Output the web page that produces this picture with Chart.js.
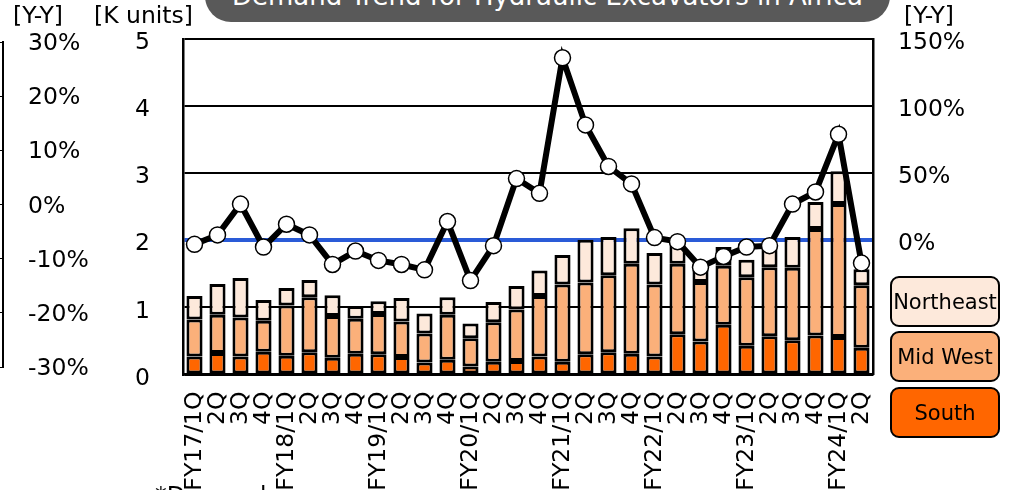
<!DOCTYPE html>
<html>
<head>
<meta charset="utf-8">
<script src="https://cdn.jsdelivr.net/npm/chart.js@4.4.1/dist/chart.umd.min.js"></script>
<style>
  body { margin: 0; width: 1017px; height: 490px; overflow: hidden; background: #fff; position: relative; font-family: "DejaVu Sans", Verdana, sans-serif; color: #000; }
  canvas { position: absolute; top: 0; }
  #chart { left: 0; }
  #side { left: 0; }
  .unit { position: absolute; top: 2px; font-size: 23.5px; line-height: 26px; white-space: nowrap; }
  #title { position: absolute; left: 205px; top: -30px; width: 685px; height: 52px; background: #595959; border-radius: 26px; color: #fff; font-size: 26px; line-height: 22px; display: flex; align-items: flex-end; justify-content: center; padding-bottom: 15px; box-sizing: border-box; white-space: nowrap; }
  .legend { position: absolute; left: 890px; width: 110px; height: 51px; border: 2px solid #000; border-radius: 9px; box-sizing: border-box; font-size: 21px; display: flex; align-items: center; justify-content: center; }
  #note { position: absolute; left: 155px; top: 482px; font-size: 23.5px; line-height: 26px; }
</style>
</head>
<body>
<canvas id="side" width="110" height="490"></canvas>
<canvas id="chart" width="1017" height="490"></canvas>
<div id="title">Demand Trend for Hydraulic Excavators in Africa</div>
<div class="unit" style="left:13px">[Y-Y]</div>
<div class="unit" style="left:94px">[K units]</div>
<div class="unit" style="left:904px">[Y-Y]</div>
<div class="legend" style="top:276px;background:#fde9db">Northeast</div>
<div class="legend" style="top:331px;background:#fbb07a">Mid West</div>
<div class="legend" style="top:387px;background:#ff6600">South</div>
<div id="note">*Demand</div>

<script>
// Data
const quarters = [
  "FY17/1Q", "2Q", "3Q", "4Q",
  "FY18/1Q", "2Q", "3Q", "4Q",
  "FY19/1Q", "2Q", "3Q", "4Q",
  "FY20/1Q", "2Q", "3Q", "4Q",
  "FY21/1Q", "2Q", "3Q", "4Q",
  "FY22/1Q", "2Q", "3Q", "4Q",
  "FY23/1Q", "2Q", "3Q", "4Q",
  "FY24/1Q", "2Q",
];

// K units
const south = [0.27, 0.32, 0.27, 0.34, 0.28, 0.33, 0.25, 0.31, 0.30, 0.26,
  0.18, 0.22, 0.12, 0.19, 0.20, 0.27, 0.19, 0.30, 0.33, 0.31,
  0.27, 0.60, 0.49, 0.74, 0.43, 0.57, 0.51, 0.58, 0.56, 0.40];
const midWest = [0.55, 0.57, 0.58, 0.46, 0.75, 0.82, 0.62, 0.52, 0.60, 0.53,
  0.43, 0.67, 0.42, 0.59, 0.77, 0.90, 1.15, 1.07, 1.15, 1.34,
  1.07, 1.05, 0.89, 0.88, 1.02, 1.03, 1.08, 1.59, 1.98, 0.93];
const northeast = [0.35, 0.46, 0.59, 0.31, 0.26, 0.26, 0.31, 0.19, 0.19, 0.35,
  0.30, 0.26, 0.22, 0.30, 0.35, 0.38, 0.44, 0.64, 0.57, 0.53,
  0.47, 0.31, 0.17, 0.28, 0.26, 0.30, 0.46, 0.40, 0.49, 0.24];

// Y-Y %
const yoy = [-3, 4, 27, -5, 12, 4, -18, -8, -15, -18,
  -22, 14, -30, -4, 46, 35, 136, 86, 55, 42,
  2, -1, -20, -12, -5, -4, 27, 36, 79, -17];

// Tick settings
const unitTicks = { min: 0, max: 5, step: 1 };
const yoyTicks = { min: -100, max: 150, step: 50 };
const sideTicks = { min: -30, max: 30, step: 10 };

const FONT = "'DejaVu Sans', Verdana, sans-serif";
const FONT_SIZE = 23.5;

// Main chart
const ctx = document.getElementById("chart");
new Chart(ctx, {
  type: "bar",
  data: {
    labels: quarters,
    datasets: [
      {
        label: "South",
        data: south,
        backgroundColor: "#ff6600",
        borderColor: "#000",
        borderWidth: 3,
        borderSkipped: false,
        order: 1,
        yAxisID: "y",
      },
      {
        label: "Mid West",
        data: midWest,
        backgroundColor: "#fbb07a",
        borderColor: "#000",
        borderWidth: 3,
        borderSkipped: false,
        order: 1,
        yAxisID: "y",
      },
      {
        label: "Northeast",
        data: northeast,
        backgroundColor: "#fde9db",
        borderColor: "#000",
        borderWidth: 3,
        borderSkipped: false,
        order: 1,
        yAxisID: "y",
      },
      {
        type: "line",
        label: "Y-Y",
        data: yoy,
        borderColor: "#000",
        borderWidth: 6,
        tension: 0,
        pointRadius: 8,
        pointBackgroundColor: "#fff",
        pointBorderColor: "#000",
        pointBorderWidth: 1.5,
        order: 0,
        yAxisID: "y1",
      },
    ],
  },
  options: {
    responsive: false,
    animation: false,
    layout: { padding: { left: 0, right: 0, top: 39, bottom: 0 } },
    plugins: {
      legend: { display: false },
      title: { display: false },
      tooltip: { enabled: false },
    },
    datasets: {
      bar: { barPercentage: 0.7, categoryPercentage: 1 },
    },
    scales: {
      x: {
        stacked: true,
        grid: { display: false },
        border: { display: true, color: "#000", width: 2.5 },
        ticks: {
          autoSkip: false,
          maxRotation: 90,
          minRotation: 90,
          padding: 9,
          color: "#000",
          font: { family: FONT, size: FONT_SIZE },
        },
        afterFit: (scale) => {
          scale.height = 115.5;
        },
      },
      y: {
        stacked: true,
        position: "left",
        min: unitTicks.min,
        max: unitTicks.max,
        ticks: {
          stepSize: unitTicks.step,
          padding: 0,
          labelOffset: 4,
          color: "#000",
          font: { family: FONT, size: FONT_SIZE },
        },
        grid: {
          drawTicks: true,
          tickLength: 33,
          tickColor: "rgba(0,0,0,0)",
          color: (c) => (c.tick && c.tick.value === 2 ? "#2a5bd7" : "#000"),
          lineWidth: (c) => (c.tick && c.tick.value === 2 ? 4 : 2),
        },
        border: { display: true, color: "#000", width: 2.5 },
        afterFit: (scale) => {
          scale.width = 183;
        },
      },
      y1: {
        position: "right",
        min: yoyTicks.min,
        max: yoyTicks.max,
        ticks: {
          stepSize: yoyTicks.step,
          padding: 0,
          labelOffset: 4,
          color: "#000",
          font: { family: FONT, size: FONT_SIZE },
          callback: (v) => (v >= 0 ? v + "%" : ""),
        },
        grid: {
          drawOnChartArea: false,
          drawTicks: true,
          tickLength: 25,
          tickColor: "rgba(0,0,0,0)",
        },
        border: { display: true, color: "#000", width: 2.5 },
        afterFit: (scale) => {
          scale.width = 1017 - 873;
        },
      },
    },
  },
});

// Cropped neighbour axis on the far left
const sideCtx = document.getElementById("side");
new Chart(sideCtx, {
  type: "line",
  data: { labels: [""], datasets: [] },
  options: {
    responsive: false,
    animation: false,
    layout: { padding: { left: 0, right: 0, top: 42, bottom: 123 } },
    plugins: { legend: { display: false }, tooltip: { enabled: false } },
    scales: {
      x: { display: false },
      y: {
        position: "right",
        min: sideTicks.min,
        max: sideTicks.max,
        ticks: {
          stepSize: sideTicks.step,
          padding: 0,
          labelOffset: 2,
          color: "#000",
          font: { family: FONT, size: FONT_SIZE },
          callback: (v) => v + "%",
        },
        grid: {
          drawTicks: true,
          tickLength: 25,
          tickColor: "rgba(0,0,0,0)",
          color: "#000",
          lineWidth: 1,
        },
        border: { display: true, color: "#000", width: 2 },
        afterFit: (scale) => {
          scale.width = 107;
        },
      },
    },
  },
});
</script>
</body>
</html>
